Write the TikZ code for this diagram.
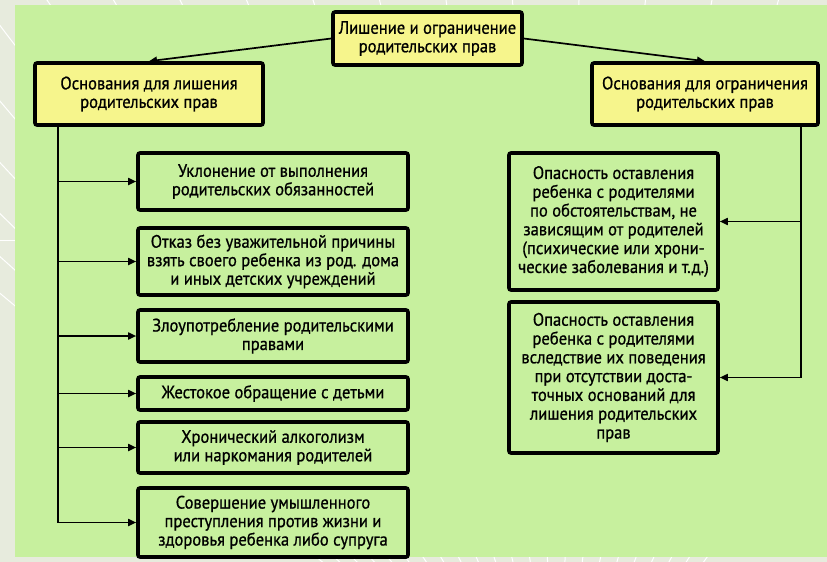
\documentclass[tikz,border=0pt]{standalone}
\usepackage{fontspec}
\setmainfont{PT Sans}[FakeStretch=0.92, FakeBold=0.8]
\usetikzlibrary{arrows.meta}

\definecolor{panel}{RGB}{199,240,158}
\definecolor{outer}{RGB}{231,235,221}
\definecolor{head}{RGB}{246,245,140}

\begin{document}
\begin{tikzpicture}
  [
    x = 1pt, y = -1pt,
    every node/.style = {draw, line width=3.6pt, rounded corners=2pt,
      align=center, inner sep=2pt, font=\fontsize{18}{18.5}\selectfont},
    headbox/.style = {fill=head, minimum height=62pt},
    leftbox/.style = {fill=panel, minimum width=270pt},
    rightbox/.style = {fill=panel, minimum width=209pt,
      font=\fontsize{18}{18.8}\selectfont},
    link/.style = {line width=1.7pt, -{Triangle[length=8pt,width=7pt]}}
  ]
  \useasboundingbox (0,0) rectangle (827,562);
  % background
  \fill[outer] (0,0) rectangle (827,562);
  \begin{scope}[white, line width=1pt]
    \clip (0,0) rectangle (827,562);
    \foreach \x in {-400,-330,...,1200}
      \draw (560,760) -- (\x,-40);
    \draw (0,240) -- (15,240);
  \end{scope}
  \fill[panel] (15,5) rectangle (827,557);

  % headers
  \node[fill=head, minimum width=189pt, minimum height=53pt] (Top) at (427.5,38.5)
    {Лишение и ограничение\\родительских прав};
  \node[headbox, minimum width=228pt] (Left) at (149,94)
    {Основания для лишения\\родительских прав};
  \node[headbox, minimum width=226pt] (Right) at (705,94)
    {Основания для ограничения\\родительских прав};

  % grounds for deprivation
  \node[leftbox, minimum height=57pt] (L1) at (273,181.5)
    {Уклонение от выполнения\\родительских обязанностей};
  \node[leftbox, minimum height=67pt] (L2) at (273,261.5)
    {Отказ без уважительной причины\\взять своего ребенка из род. дома\\и иных детских учреждений};
  \node[leftbox, minimum height=52pt] (L3) at (273,336)
    {Злоупотребление родительскими\\правами};
  \node[leftbox, minimum height=33pt] (L4) at (273,393.5)
    {Жестокое обращение с детьми};
  \node[leftbox, minimum height=51pt] (L5) at (273,447.5)
    {Хронический алкоголизм\\или наркомания родителей};
  \node[leftbox, minimum height=69pt] (L6) at (273,522.5)
    {Совершение умышленного\\преступления против жизни и\\здоровья ребенка либо супруга};

  % grounds for restriction
  \node[rightbox, minimum height=137pt] (R1) at (613.5,221.5)
    {Опасность оставления\\ребенка с родителями\\по обстоятельствам, не\\зависящим от родителей\\(психические или хрони-\\ческие заболевания и т.д.)};
  \node[rightbox, minimum height=151pt] (R2) at (613.5,377.5)
    {Опасность оставления\\ребенка с родителями\\вследствие их поведения\\при отсутствии доста-\\точных оснований для\\лишения родительских\\прав};

  \coordinate (LT) at (58,125);
  \coordinate (RT) at (801,125);

  \draw[link] (Top.west) -- (Left.north);
  \draw[link] (Top.east) -- (Right.north);
  \foreach \n in {L1,L2,L3,L4,L5}
    \draw[link] (LT |- \n.west) -- (\n.west);
  \draw[link] (LT) |- (L6.west);
  \draw[link] (RT |- R1.east) -- (R1.east);
  \draw[link] (RT) |- (R2.east);
\end{tikzpicture}
\end{document}
